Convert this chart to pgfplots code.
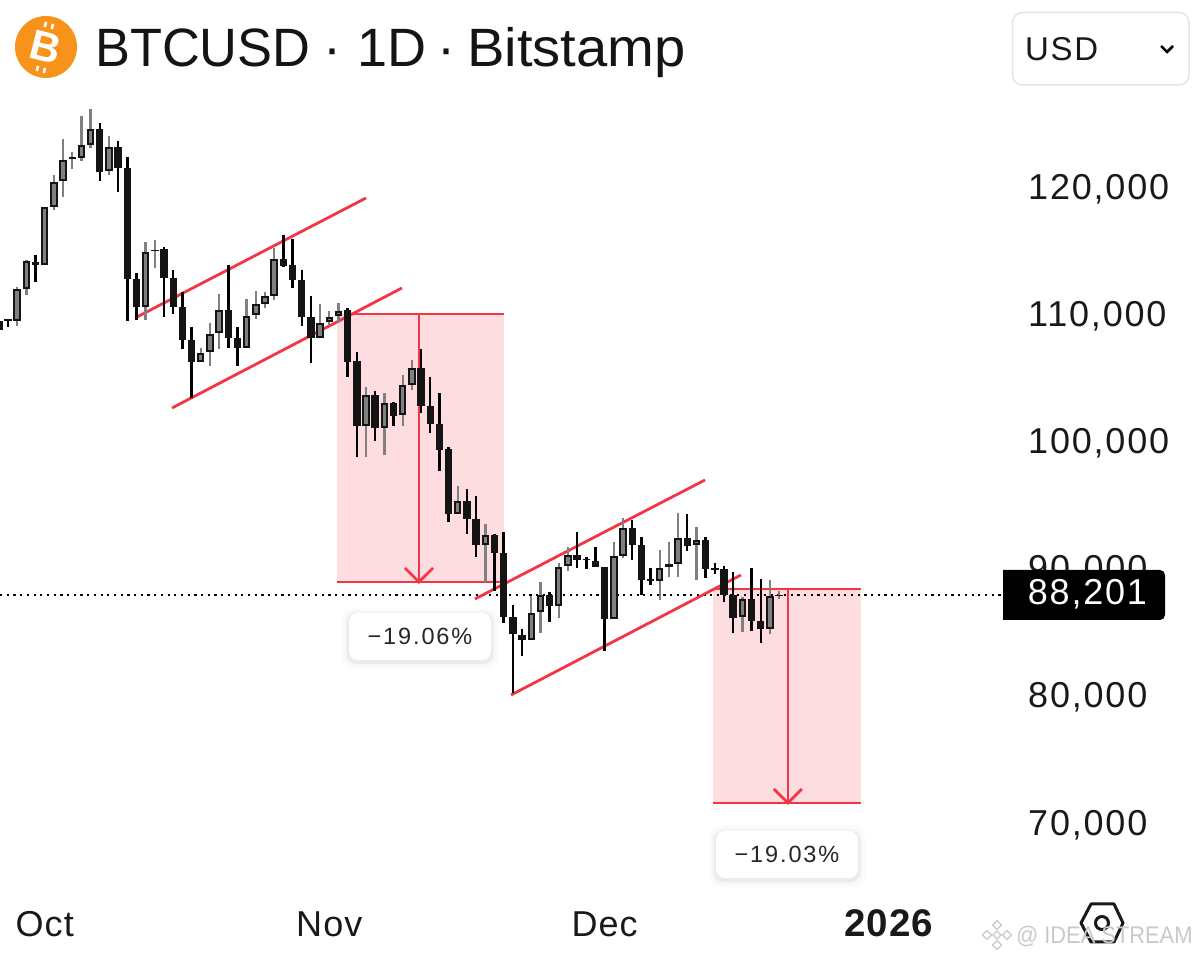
\documentclass[border=0pt]{standalone}
\usepackage{fontspec}
\usepackage{pgfplots}
\usepackage{pgfplotstable}
\pgfplotsset{compat=1.18}
\setmainfont{Liberation Sans}
\newfontfamily\tvf[LetterSpace=5]{Liberation Sans}
\newfontfamily\tvx[LetterSpace=3]{Liberation Sans}
\newfontfamily\tvp[LetterSpace=8]{Liberation Sans}
\definecolor{tvred}{HTML}{F23645}
\definecolor{tvpink}{HTML}{FDDDE0}
\definecolor{tvgray}{HTML}{808080}
\definecolor{tvborder}{HTML}{E2E4EA}
\definecolor{btc}{HTML}{F7931A}
\definecolor{wm}{HTML}{C9C9C9}

% day (0 = 1 Oct), high, body top, body bottom, low
\pgfplotstableread{
d h t b l
-3 112410 112250 109730 109340
-2 114530 114450 112250 111780
0 118700 118700 114140 114140
1 121210 120660 118700 118460
2 124040 122390 120740 119480
3 123020 122590 122470 121680
4 125850 123570 122550 122310
5 126400 124830 123570 123330
7 124280 123410 121530 121210
11 115940 115160 110830 109810
12 116100 115320 115240 113900
17 107610 107220 106510 106510
18 109580 108710 107300 106200
19 111860 110600 108790 107530
22 111460 110130 107610 107610
23 112090 111070 110210 109890
24 112010 111700 111070 110760
25 115470 114610 111700 111380
30 111070 109580 108400 108400
31 110520 110050 109660 109420
32 111150 110520 110130 109660
35 104540 103920 101480 99040
37 104070 103290 101320 99200
39 105490 104700 102340 101480
40 106670 106040 104700 104310
45 96760 95580 94560 94560
48 93770 92910 92120 89210
53 88110 86780 84650 84650
54 89210 88190 86860 85200
56 90710 90390 87330 86380
57 91970 91340 90470 90080
62 92360 91260 86310 86310
63 94250 93460 91260 91100
67 91730 90310 89290 87800
68 92360 90630 90390 89610
69 94640 92670 90630 89610
71 93540 92520 92120 89370
76 88030 87880 86460 85280
79 89370 88110 85520 85130
80 88510 88200 88110 87880
}\upc
\pgfplotstableread{
d h t b l
-5 109900 109730 109030 108700
-4 109890 109850 109730 109260
-1 114920 114370 114140 112800
6 125300 124830 121450 120740
8 123890 123410 121760 119880
9 122630 121760 113040 109730
10 113510 113040 110830 109810
13 115550 115390 113110 110050
14 113740 113110 110830 110280
15 112010 110830 108240 107530
16 109260 108240 106510 103680
20 114140 110600 108400 107610
21 109260 108400 107610 106200
26 116490 114610 114060 113980
27 116180 114140 112960 112330
28 113740 112960 110050 109340
29 111700 110050 108400 106430
33 110760 110600 106510 105330
34 107300 106590 101480 99040
36 104230 103920 101320 100300
38 103370 103290 102260 101480
41 107530 106040 103050 102500
42 105330 103050 101640 100930
43 104070 101640 99590 97940
44 99830 99670 94560 93930
46 96530 95580 94170 92990
47 95970 94170 92120 91180
49 92990 92910 91490 88510
50 93140 91490 86460 85990
51 87410 86460 85130 80480
52 85520 85050 84650 83400
55 88430 88190 87330 86070
58 93140 91340 90940 90310
59 91180 91020 90940 90240
60 91970 90870 90390 90390
61 90390 90390 86310 83790
64 94090 93460 92120 90940
65 92750 92120 89370 88190
66 90310 89450 89290 88980
70 94560 92670 92040 91650
72 92750 92520 90240 89530
73 90710 90310 90160 89840
74 90470 90240 88190 87640
75 90000 88190 86380 85200
77 90310 87880 86150 85360
78 89450 86150 85520 84420
}\downc

\pgfplotsset{
  errbar/.style 2 args={draw=none, no marks, forget plot,
    error bars/.cd, y dir=minus, y explicit, error mark=none,
    error bar style={draw=#2, solid, line width=#1}},
}

\begin{document}
\begin{tikzpicture}
\useasboundingbox (0,0) rectangle (1200pt,961pt);
\begin{axis}[
  anchor=south west, at={(0,0)},
  scale only axis, width=1200pt, height=961pt,
  xmin=-4.87, xmax=125.85, ymin=59416, ymax=134970,
  axis line style={draw=none}, tick style={draw=none},
  axis on top=false, clip=true,
  xtick={0,31,61,92}, xticklabels={Oct,Nov,Dec,{\fontsize{38.5}{40}\selectfont\textbf{2026}}},
  ytick={70000,80000,90000,100000,110000,120000},
  yticklabels={{70,000},{80,000},{90,000},{100,000},{110,000},{120,000}},
  xticklabel style={font=\tvx\fontsize{36}{40}\selectfont, anchor=base, inner sep=0pt, yshift=24pt, text=black!90},
  yticklabel style={font=\tvf\fontsize{36}{40}\selectfont, anchor=west, inner sep=0pt, xshift=1028pt, yshift=1.5pt, text=black!90},
  tick align=inside, major tick length=0pt,
]
% measure boxes
\addplot[fill=tvpink, draw=none, forget plot] coordinates {(31.83,110283)(50.03,110283)(50.03,89213)(31.83,89213)} -- cycle;
\addplot[fill=tvpink, draw=none, forget plot] coordinates {(72.80,88663)(88.92,88663)(88.92,71838)(72.80,71838)} -- cycle;
% last-price dotted line
\addplot[black, line width=2.2pt, dash pattern=on 2.2pt off 4.5pt, forget plot] coordinates {(-4.87,88201)(104.5,88201)};
% box edges and arrows
\addplot[tvred, line width=2.8pt, forget plot] coordinates {(32.93,110283)(50.03,110283)};
\addplot[tvred, line width=2.8pt, forget plot] coordinates {(31.83,89213)(50.03,89213)};
\addplot[tvred, line width=2.8pt, forget plot] coordinates {(40.77,110283)(40.77,89213)};
\addplot[tvred, line width=2.8pt, forget plot] coordinates {(39.25,90314)(40.77,89213)(42.30,90314)};
\addplot[tvred, line width=2.8pt, forget plot] coordinates {(72.80,88663)(88.92,88663)};
\addplot[tvred, line width=2.8pt, forget plot] coordinates {(72.80,71838)(88.92,71838)};
\addplot[tvred, line width=2.8pt, forget plot] coordinates {(80.97,88663)(80.97,71838)};
\addplot[tvred, line width=2.8pt, forget plot] coordinates {(79.44,72939)(80.97,71838)(82.49,72939)};
% channels
\addplot[tvred, line width=2.8pt, forget plot] coordinates {(9.84,109969)(35.0,119403)};
\addplot[tvred, line width=2.8pt, forget plot] coordinates {(13.87,102893)(38.92,112328)};
\addplot[tvred, line width=2.8pt, forget plot] coordinates {(46.87,87877)(71.93,97232)};
\addplot[tvred, line width=2.8pt, forget plot] coordinates {(50.80,80329)(75.85,89764)};
% wicks
\addplot[errbar={2.4pt}{tvgray}] table[x=d, y=h, y error minus expr=\thisrow{h}-\thisrow{l}] {\upc};
\addplot[errbar={2.4pt}{black}] table[x=d, y=h, y error minus expr=\thisrow{h}-\thisrow{l}] {\downc};
% bodies
\addplot[errbar={7.4pt}{black!92}] table[x=d, y=t, y error minus expr=\thisrow{t}-\thisrow{b}] {\downc};
\addplot[errbar={7.4pt}{black!92}] table[x=d, y=t, y error minus expr=\thisrow{t}-\thisrow{b}] {\upc};
\addplot[errbar={3.4pt}{tvgray}] table[x=d, y expr=\thisrow{t}-150, y error minus expr={max(\thisrow{t}-\thisrow{b}-300,0)}] {\upc};
\end{axis}

\begin{scope}[shift={(0,961pt)},x=1pt,y=-1pt]
% header
\fill[btc] (46,47) circle (31);
\node[white, rotate=-14, font=\bfseries\fontsize{42}{42}\selectfont, inner sep=0pt] at (46,47) {B};
\foreach \a/\b in {46/22,53/24,38/66,45/68}
  \draw[white, line width=2.6pt] (\a,\b) -- ++(-1.2,5);
\node[anchor=base west, inner sep=0pt, xscale=0.97, font=\fontsize{54}{56}\selectfont, text=black!92] at (95,67) {BTCUSD};
\node[anchor=base, inner sep=0pt, font=\fontsize{54}{56}\selectfont, text=black!92] at (332,67) {·};
\node[anchor=base west, inner sep=0pt, font=\fontsize{54}{56}\selectfont, text=black!92] at (357,67) {1D};
\node[anchor=base, inner sep=0pt, font=\fontsize{54}{56}\selectfont, text=black!92] at (446,67) {·};
\node[anchor=base west, inner sep=0pt, xscale=1.04, font=\fontsize{54}{56}\selectfont, text=black!92] at (467,67) {Bitstamp};
% USD
\draw[tvborder, line width=1.5pt, rounded corners=10pt] (1012.5,12.5) rectangle (1189,85);
\node[anchor=base west, inner sep=0pt, font=\tvf\fontsize{33}{36}\selectfont, text=black!90] at (1025,61) {USD};
\draw[black, line width=2.5pt] (1161,46) -- (1167,52) -- (1173,46);
% price label
\fill[black, rounded corners=5pt] (1003,570) -- (1165,570) -- (1165,620) -- (1003,620);
\fill[black] (1003,570) rectangle (1020,620);
\node[anchor=base, inner sep=0pt, white, font=\tvf\fontsize{36}{40}\selectfont] at (1087.5,605) {88,201};
% percentage labels
\foreach \x/\y/\t in {349/613/{−19.06\%},716/831/{−19.03\%}}{
  \foreach \e/\o in {7/0.015,4/0.025,2/0.04}
    \fill[black, opacity=\o, rounded corners=10pt] (\x-\e,\y-\e+2) rectangle (\x+142+\e,\y+47+\e+2);
  \fill[white, rounded corners=9pt] (\x,\y) rectangle (\x+142,\y+47);
  \node[inner sep=0pt, anchor=base, font=\tvp\fontsize{23.5}{26}\selectfont, text=black!85] at (\x+71,\y+32) {\t};
}
% settings icon
\draw[black!90, line width=3pt, line join=round] (1091,904) -- (1114,904) -- (1123,923) -- (1114,942) -- (1091,942) -- (1081,923) -- cycle;
\draw[black!90, line width=3pt] (1102,923) circle (6.5);
% watermark
\node[anchor=base west, inner sep=0pt, xscale=0.91, text=wm, font=\fontsize{24}{26}\selectfont] at (1016,944) {@ IDEA STREAM};
\foreach \a/\b/\r in {997/935/4,997/925/4.5,997/945/4.5,987/935/4.5,1007/935/4.5}
  \draw[wm, line width=1.3pt] (\a-\r,\b) -- (\a,\b-\r) -- (\a+\r,\b) -- (\a,\b+\r) -- cycle;
\end{scope}
\end{tikzpicture}
\end{document}
